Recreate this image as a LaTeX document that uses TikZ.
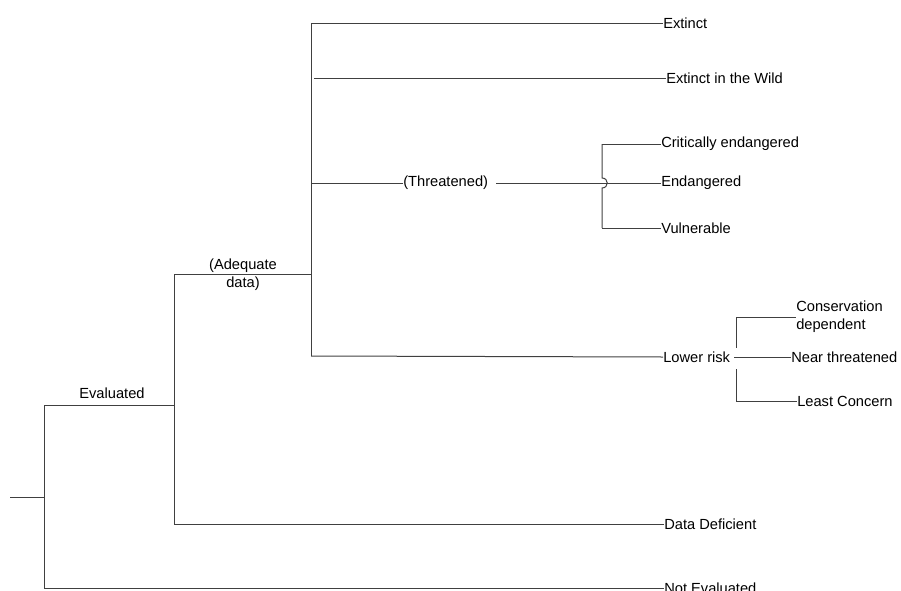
\documentclass[tikz,border=0pt]{standalone}
\usepackage{fontspec}
\setmainfont{Liberation Sans}
\begin{document}
\begin{tikzpicture}[
    x=0.75pt, y=-0.75pt,
    leaf/.style={
      anchor=west, inner sep=0pt, align=left,
      font=\fontsize{11}{13.5}\selectfont
    },
    mid/.style={
      inner sep=0pt, align=center,
      font=\fontsize{11}{13.5}\selectfont
    },
    link/.style={-, line width=0.75pt, black!75}
  ]
    \useasboundingbox (0,0) rectangle (901,590);

    % junctions
    \coordinate (root)  at (10,497);
    \coordinate (j0)    at (44,497);
    \coordinate (ev-a)  at (44,405);
    \coordinate (ev-b)  at (174,405);
    \coordinate (ne-a)  at (44,588);
    \coordinate (ad-a)  at (174,274);
    \coordinate (ad-b)  at (311,274);
    \coordinate (dd-a)  at (174,524);
    \coordinate (ex-a)  at (311,23);
    \coordinate (ew-a)  at (314,78);
    \coordinate (th-a)  at (311,183);
    \coordinate (lr-a)  at (311,356);
    \coordinate (cr-a)  at (602,144);
    \coordinate (vu-a)  at (602,228);
    \coordinate (cd-a)  at (736,317);
    \coordinate (lc-a)  at (736,401);

    \node[mid] (evaluated) at (112,393) {Evaluated};
    \node[mid] (adequate)  at (243,275) {(Adequate\\data)};

    \node[leaf] (extinct) at (663,23)  {Extinct};
    \node[leaf] (wild)    at (666,78)  {Extinct in the Wild};
    \node[leaf] (threat)  at (403,183) {(Threatened)};
    \node[leaf] (crit)    at (661,144) {Critically endangered};
    \node[leaf] (endang)  at (661,183) {Endangered};
    \node[leaf] (vuln)    at (661,228) {Vulnerable};
    \node[leaf] (lowrisk) at (663,357) {Lower risk};
    \node[leaf] (consdep) at (796,317) {Conservation\\dependent};
    \node[leaf] (nearthr) at (791,357) {Near threatened};
    \node[leaf] (leastc)  at (797,401) {Least Concern};
    \node[leaf] (datadef) at (664,524) {Data Deficient};
    \node[leaf] (noteval) at (664,588) {Not Evaluated};

    % trunk
    \draw[link] (root) -- (j0);
    \draw[link] (ev-a) -- (ne-a);
    \draw[link] (ev-a) -- (ev-b);
    \draw[link] (ne-a) -- (noteval.west);

    \draw[link] (ad-a) -- (dd-a);
    \draw[link] (ad-a) -- (ad-b);
    \draw[link] (dd-a) -- (datadef.west);

    \draw[link] (ex-a) -- (lr-a);
    \draw[link] (ex-a) -- (extinct.west);
    \draw[link] (ew-a) -- (wild.west);
    \draw[link] (th-a) -- (threat.west);
    \draw[link] (lr-a) -- (lowrisk.west);

    % threatened bracket
    \draw[link] ([xshift=6]threat.east) -- (endang.west);
    \draw[link] (cr-a) -- (602,178)
      .. controls (609,178) and (609,188) .. (602,188) -- (vu-a);
    \draw[link] (cr-a) -- (crit.west);
    \draw[link] (vu-a) -- (vuln.west);

    % lower risk bracket
    \draw[link] ([xshift=3]lowrisk.east) -- (nearthr.west);
    \draw[link] (cd-a) -- (736,348);
    \draw[link] (736,369) -- (lc-a);
    \draw[link] (cd-a) -- (consdep.west);
    \draw[link] (lc-a) -- (leastc.west);
  \end{tikzpicture}
\end{document}
